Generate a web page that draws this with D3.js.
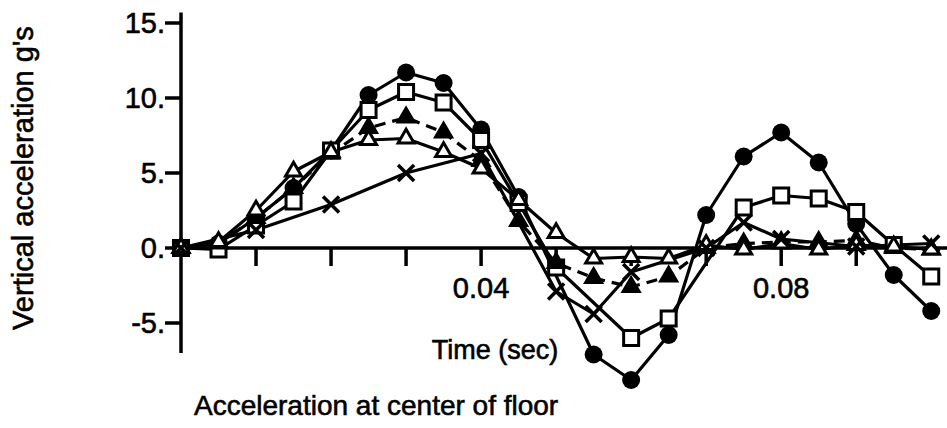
<!DOCTYPE html>
<html>
<head>
<meta charset="utf-8">
<script src="https://cdn.jsdelivr.net/npm/d3@7"></script>
<style>
  html, body { margin: 0; padding: 0; background: #fff; }
  svg { display: block; }
  text { font-family: "Liberation Sans", Arial, sans-serif; fill: #000; stroke: #000; stroke-width: 0.6; }
</style>
</head>
<body>
<svg id="chart" width="947" height="428"></svg>
<script>
// ---- data ----
// null = no readable point at that time (line passes straight through)
const times = [0, 0.005, 0.01, 0.015, 0.02, 0.025, 0.03, 0.035, 0.04, 0.045, 0.05,
               0.055, 0.06, 0.065, 0.07, 0.075, 0.08, 0.085, 0.09, 0.095, 0.1];
const circleValues   = [0, 0.3, 2.0, 4.0, 6.5, 10.2, 11.7, 11.0, 7.9, 3.4, null,
                        -7.1, -8.8, -5.8, 2.2, 6.1, 7.7, 5.7, 1.6, -1.8, -4.2];
const squareValues   = [0, -0.1, 1.5, 3.1, 6.5, 9.2, 10.4, 9.7, 7.2, 3.0, -1.3,
                        null, -6.0, -4.7, null, 2.7, 3.5, 3.3, 2.4, 0.2, -1.9];
const filledTriValues = [0, 0.3, 2.0, 4.0, 6.3, 8.0, 8.7, 7.7, 5.8, 1.8, -1.0,
                        -2.0, -2.6, -1.9, 0.0, 0.3, 0.4, 0.4, 0.5, 0.0, -0.1];
const openTriValues  = [0, 0.4, 2.5, 5.1, 6.4, 7.2, 7.3, 6.4, 5.3, 3.2, 1.0,
                        -0.7, -0.6, -0.7, 0.2, -0.1, 0.3, -0.1, 0.2, 0.1, -0.1];
const crossTimes  = [0, 0.01, 0.02, 0.03, 0.04, 0.05, 0.055, 0.06, 0.07, 0.075, 0.08, 0.09, 0.1];
const crossValues = [0, 1.2, 2.9, 5.0, 6.3, -2.9, -4.4, -1.6, 0.0, 1.7, 0.6, 0.1, 0.3];

const yTicks = [15, 10, 5, 0, -5];
const yTickLabels = ["15.", "10.", "5.", "0.", "-5."];
const xTicks = [0.01, 0.02, 0.03, 0.04, 0.05, 0.06, 0.07, 0.08, 0.09];
const xTickLabels = {0.04: "0.04", 0.08: "0.08"};

const yTitle = "Vertical acceleration g's";
const xTitle = "Time (sec)";
const caption = "Acceleration at center of floor";

// ---- drawing ----
const svg = d3.select("#chart");
const x = d3.scaleLinear().domain([0, 0.1021]).range([181, 947]);
const y = d3.scaleLinear().domain([-7, 15.7]).range([353, 12.5]);

const g = svg.append("g");

// y axis
g.append("line").attr("x1", x(0)).attr("x2", x(0)).attr("y1", y(15.7)).attr("y2", y(-7))
  .attr("stroke", "#000").attr("stroke-width", 3.5);
yTicks.forEach((v, i) => {
  g.append("line").attr("x1", x(0) - 16).attr("x2", x(0)).attr("y1", y(v)).attr("y2", y(v))
    .attr("stroke", "#000").attr("stroke-width", 3.5);
  g.append("text").attr("x", x(0) - 16).attr("y", y(v) + 10)
    .attr("text-anchor", "end").attr("font-size", 29).text(yTickLabels[i]);
});

// x axis along zero
g.append("line").attr("x1", x(0)).attr("x2", 947).attr("y1", y(0)).attr("y2", y(0))
  .attr("stroke", "#000").attr("stroke-width", 3.5);
xTicks.forEach(t => {
  g.append("line").attr("x1", x(t)).attr("x2", x(t)).attr("y1", y(0)).attr("y2", y(0) + 18)
    .attr("stroke", "#000").attr("stroke-width", 3.5);
  if (xTickLabels[t]) {
    g.append("text").attr("x", x(t)).attr("y", y(0) + 50)
      .attr("text-anchor", "middle").attr("font-size", 29).text(xTickLabels[t]);
  }
});

// titles
svg.append("text").attr("transform", "translate(33,178) rotate(-90)")
  .attr("text-anchor", "middle").attr("font-size", 29).text(yTitle);
svg.append("text").attr("x", 495).attr("y", 359)
  .attr("text-anchor", "middle").attr("font-size", 27).text(xTitle);
svg.append("text").attr("x", 194).attr("y", 415)
  .attr("text-anchor", "start").attr("font-size", 28).text(caption);

// series
const mk = (ts, vs) => ts.map((t, i) => ({t, v: vs[i]})).filter(d => d.v !== null);
const series = [
  {name: "circle", data: mk(times, circleValues), dash: null, marker: "circle"},
  {name: "square", data: mk(times, squareValues), dash: null, marker: "square"},
  {name: "filledTri", data: mk(times, filledTriValues), dash: "11,7", marker: "filledTri"},
  {name: "openTri", data: mk(times, openTriValues), dash: null, marker: "openTri"},
  {name: "cross", data: mk(crossTimes, crossValues), dash: null, marker: "cross"}
];
const line = d3.line().x(d => x(d.t)).y(d => y(d.v));

const plot = svg.append("g");
series.forEach(s => {
  plot.append("path").datum(s.data).attr("d", line)
    .attr("fill", "none").attr("stroke", "#000").attr("stroke-width", 3.2)
    .attr("stroke-dasharray", s.dash).attr("stroke-linejoin", "round");
});

series.forEach(s => {
  const gm = plot.append("g");
  s.data.forEach(d => {
    const cx = x(d.t), cy = y(d.v);
    if (s.marker === "circle") {
      gm.append("circle").attr("cx", cx).attr("cy", cy).attr("r", 9).attr("fill", "#000");
    } else if (s.marker === "square") {
      gm.append("rect").attr("x", cx - 7.5).attr("y", cy - 7.5).attr("width", 15).attr("height", 15)
        .attr("fill", "#fff").attr("stroke", "#000").attr("stroke-width", 3);
    } else if (s.marker === "filledTri") {
      gm.append("path").attr("transform", `translate(${cx},${cy})`)
        .attr("d", d3.symbol(d3.symbolTriangle, 150)())
        .attr("fill", "#000").attr("stroke", "#000").attr("stroke-width", 1.5);
    } else if (s.marker === "openTri") {
      gm.append("path").attr("transform", `translate(${cx},${cy})`)
        .attr("d", d3.symbol(d3.symbolTriangle, 110)())
        .attr("fill", "#fff").attr("stroke", "#000").attr("stroke-width", 3);
    } else if (s.marker === "cross") {
      const r = 8;
      gm.append("path")
        .attr("d", `M${cx - r},${cy - r}L${cx + r},${cy + r}M${cx - r},${cy + r}L${cx + r},${cy - r}`)
        .attr("stroke", "#000").attr("stroke-width", 3.5).attr("fill", "none");
    }
  });
});
</script>
</body>
</html>
